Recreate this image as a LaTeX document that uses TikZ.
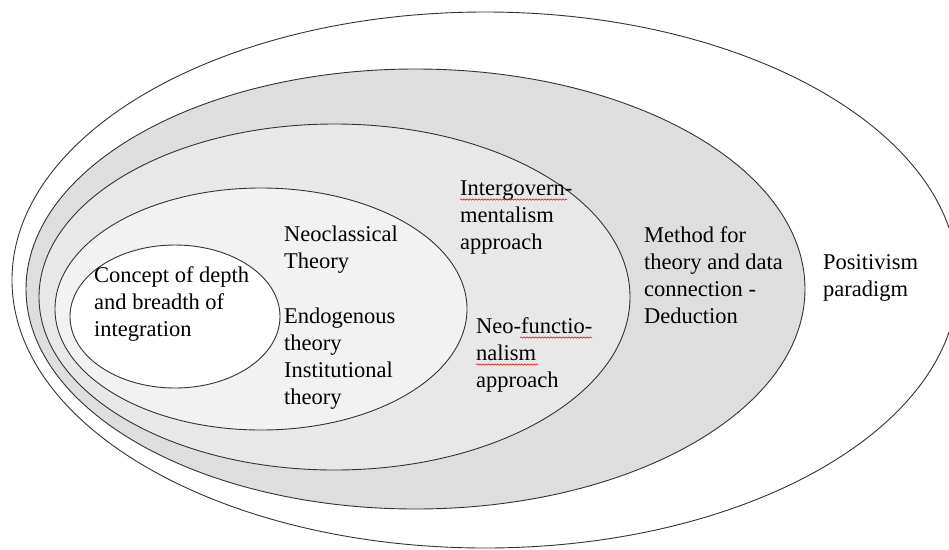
\documentclass[tikz,border=0pt]{standalone}
\usepackage{fontspec}
\setmainfont{Liberation Serif}
\usetikzlibrary{decorations.pathmorphing}
\begin{document}
\begin{tikzpicture}[x=1pt,y=-1pt,
  ring/.style={draw=black!80, line width=0.9pt},
  % multi-line labels: the base anchor sits on the last line's baseline
  label/.style={anchor=base west, inner sep=0pt, align=left,
    font=\fontsize{22.5}{27}\selectfont},
  squiggle/.style={draw=red!85!black, line width=0.5pt,
    decorate, decoration={snake, segment length=3pt, amplitude=0.7pt}}]
  \useasboundingbox (0,0) rectangle (949,549);
  % nested ellipses, outermost first
  \fill[white] (0,0) rectangle (949,549);
  \draw[ring, fill=white]     (485,280) ellipse [x radius=473, y radius=268];
  \draw[ring, fill=black!13]  (415.5,289) ellipse [x radius=389.5, y radius=220];
  \draw[ring, fill=black!9]   (334.5,297) ellipse [x radius=295.5, y radius=173];
  \draw[ring, fill=black!5]   (261,309) ellipse [x radius=206, y radius=121];
  \draw[ring, fill=white]     (175,316.5) ellipse [x radius=105, y radius=71.5];
  % labels
  \node[label] (concept) at (94,336) {Concept of depth\\and breadth of\\integration};
  \node[label] (neo) at (284,268) {Neoclassical\\Theory};
  \node[label] (endo) at (284,404) {Endogenous\\theory\\Institutional\\theory};
  \node[label] (inter) at (460,249) {Intergovern-\\mentalism\\approach};
  \node[label] (func) at (476,387) {Neo-functio-\\nalism\\approach};
  \node[label] (method) at (644,323) {Method for\\theory and data\\connection -\\Deduction};
  \node[label] (posit) at (823,296) {Positivism\\paradigm};
  % spelling marks under hyphenated words
  \draw[squiggle] (460,199.5) -- (567,199.5);
  \draw[squiggle] (520,337.5) -- (592,337.5);
  \draw[squiggle] (476,364.5) -- (538,364.5);
\end{tikzpicture}
\end{document}
